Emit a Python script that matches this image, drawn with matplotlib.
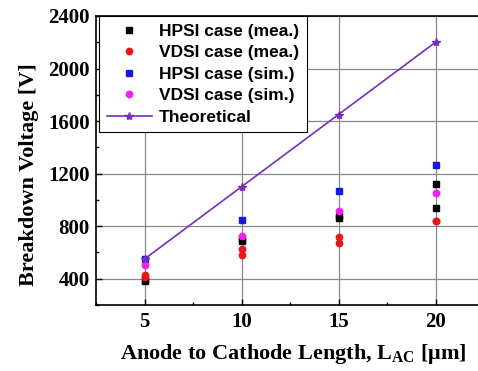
import matplotlib
matplotlib.use("Agg")
import matplotlib.pyplot as plt
from matplotlib.ticker import MultipleLocator

plt.rcParams['mathtext.fontset'] = 'custom'
plt.rcParams['mathtext.rm'] = 'Liberation Serif'
plt.rcParams['mathtext.bf'] = 'Liberation Serif:bold'

# Data
hpsi_mea_x = [5, 5, 10, 10, 15, 15, 20, 20]
hpsi_mea_y = [385, 392, 691, 700, 863, 880, 1119, 942]
vdsi_mea_x = [5, 5, 10, 10, 15, 15, 20, 20]
vdsi_mea_y = [428, 410, 623, 578, 714, 671, 843, 843]
sim_x = [5, 10, 15, 20]
hpsi_sim_y = [547, 845, 1071, 1263]
vdsi_sim_y = [502, 726, 912, 1055]
theo_y = [550, 1100, 1650, 2200]

fig = plt.figure(figsize=(4.78, 3.71), dpi=100)
ax = fig.add_axes([96/478, 1-305/371, 388/478, 289/371])

ax.grid(True, which='major', color='#888888', linewidth=0.9)
ax.set_axisbelow(True)

ax.plot(hpsi_mea_x, hpsi_mea_y, 's', color='black', markersize=4, label='HPSI case (mea.)', zorder=3)
ax.plot(vdsi_mea_x, vdsi_mea_y, 'o', color='#E81818', markersize=4.6, label='VDSI case (mea.)', zorder=3)
ax.plot(sim_x, hpsi_sim_y, 's', color='#1818E0', markersize=4, label='HPSI case (sim.)', zorder=3)
ax.plot(sim_x, vdsi_sim_y, 'o', color='#F020F0', markersize=4.6, label='VDSI case (sim.)', zorder=3)
ax.plot(sim_x, theo_y, '-*', color='#7A2BC0', linewidth=1.2, markersize=6, label='Theoretical', zorder=4)

ax.set_xlim(2.5, 22.5)
ax.set_ylim(200, 2400)
ax.xaxis.set_major_locator(MultipleLocator(5))
ax.xaxis.set_minor_locator(MultipleLocator(2.5))
ax.yaxis.set_major_locator(MultipleLocator(400))
ax.yaxis.set_minor_locator(MultipleLocator(200))
ax.set_yticks([400, 800, 1200, 1600, 2000, 2400])

ax.tick_params(which='both', direction='in', length=4, width=1, colors='black')
ax.tick_params(which='minor', length=2.5)
ax.tick_params(axis='x', pad=5)
ax.tick_params(axis='y', pad=4.5)
for lab in ax.get_xticklabels() + ax.get_yticklabels():
    lab.set_fontfamily('Liberation Serif')
    lab.set_fontweight('bold')
    lab.set_fontsize(15)

for s in ax.spines.values():
    s.set_linewidth(1.2)

ax.set_xlabel('Anode to Cathode Length, L$_{\\mathbf{AC}}$ [μm]', fontfamily='Liberation Serif',
              fontweight='bold', fontsize=16)
ax.xaxis.label.set_va('baseline')
ax.xaxis.set_label_coords((293-96)/388, (305-359)/289)
ax.set_ylabel('Breakdown Voltage [V]', fontfamily='Liberation Serif', fontweight='bold',
              fontsize=16)
ax.yaxis.set_label_coords(-(96-39)/388, (305-175)/289)

leg = ax.legend(loc='upper left', bbox_to_anchor=(99/478, 1-16/371), bbox_transform=fig.transFigure,
                prop={'family': 'Liberation Sans', 'weight': 'bold', 'size': 12.5},
                frameon=True, fancybox=False, edgecolor='black', framealpha=1,
                handlelength=2.6, handletextpad=0.4, labelspacing=0.36, borderpad=0.45,
                borderaxespad=0)
leg.get_frame().set_linewidth(0.8)

fig.savefig('out.png', dpi=100)
